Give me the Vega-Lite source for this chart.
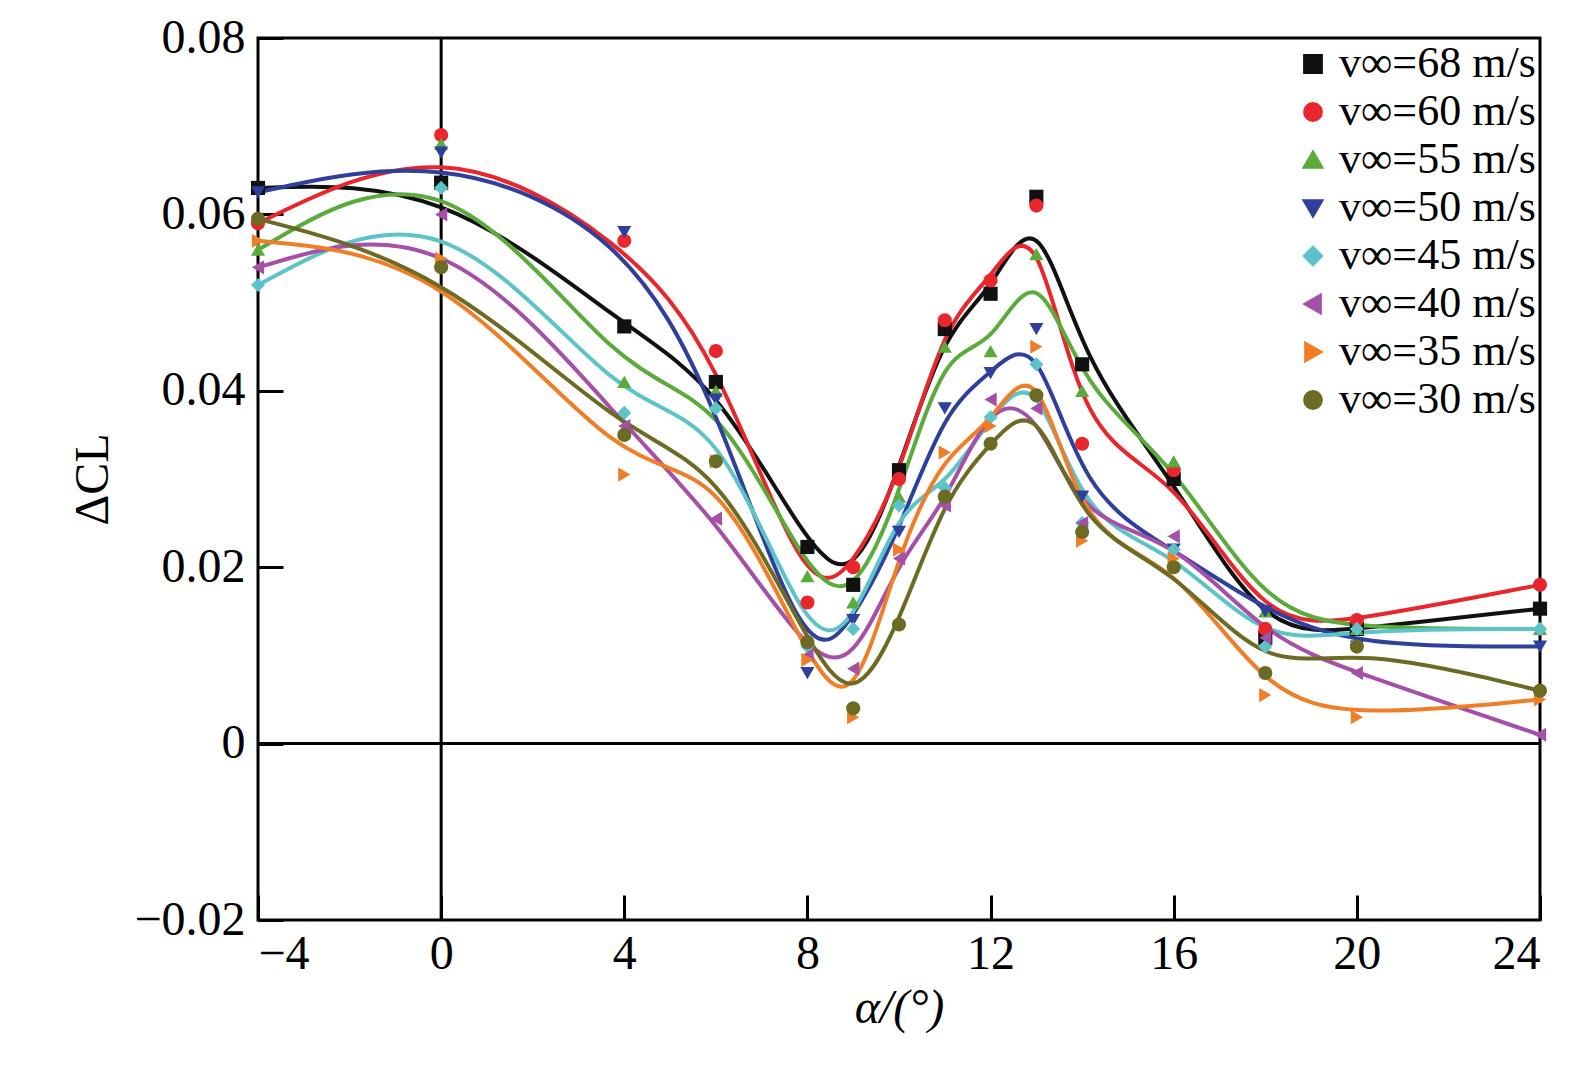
{
  "$schema": "https://vega.github.io/schema/vega-lite/v6.json",
  "autosize": "none",
  "width": 1282,
  "height": 882,
  "padding": {"left": 258, "top": 38, "right": 42, "bottom": 166},
  "background": "white",
  "config": {
    "font": "Liberation Serif",
    "view": {"stroke": "black", "strokeWidth": 3},
    "axis": {"labelFont": "Liberation Serif", "titleFont": "Liberation Serif", "labelFontSize": 48, "titleFontSize": 48, "titleFontWeight": "normal", "labelColor": "black", "titleColor": "black", "domain": false, "grid": false, "tickColor": "black", "tickWidth": 3, "tickSize": -25},
    "legend": {"orient": "top-right", "offset": 4, "title": null, "labelFont": "Liberation Serif", "labelFontSize": 44, "labelColor": "black", "symbolSize": 250, "rowPadding": 4, "labelLimit": 400, "symbolStrokeWidth": 4}
  },
  "datasets": {
    "pts": [
      {"v": "v∞=68 m/s", "a": -4, "cl": 0.063}, {"v": "v∞=68 m/s", "a": 0, "cl": 0.0636}, {"v": "v∞=68 m/s", "a": 4, "cl": 0.0473}, {"v": "v∞=68 m/s", "a": 6, "cl": 0.041}, {"v": "v∞=68 m/s", "a": 8, "cl": 0.0223}, {"v": "v∞=68 m/s", "a": 9, "cl": 0.018}, {"v": "v∞=68 m/s", "a": 10, "cl": 0.031}, {"v": "v∞=68 m/s", "a": 11, "cl": 0.047}, {"v": "v∞=68 m/s", "a": 12, "cl": 0.051}, {"v": "v∞=68 m/s", "a": 13, "cl": 0.062}, {"v": "v∞=68 m/s", "a": 14, "cl": 0.043}, {"v": "v∞=68 m/s", "a": 16, "cl": 0.030}, {"v": "v∞=68 m/s", "a": 18, "cl": 0.012}, {"v": "v∞=68 m/s", "a": 20, "cl": 0.013}, {"v": "v∞=68 m/s", "a": 24, "cl": 0.0153},
      {"v": "v∞=60 m/s", "a": -4, "cl": 0.059}, {"v": "v∞=60 m/s", "a": 0, "cl": 0.069}, {"v": "v∞=60 m/s", "a": 4, "cl": 0.057}, {"v": "v∞=60 m/s", "a": 6, "cl": 0.0445}, {"v": "v∞=60 m/s", "a": 8, "cl": 0.016}, {"v": "v∞=60 m/s", "a": 9, "cl": 0.020}, {"v": "v∞=60 m/s", "a": 10, "cl": 0.030}, {"v": "v∞=60 m/s", "a": 11, "cl": 0.048}, {"v": "v∞=60 m/s", "a": 12, "cl": 0.0525}, {"v": "v∞=60 m/s", "a": 13, "cl": 0.061}, {"v": "v∞=60 m/s", "a": 14, "cl": 0.034}, {"v": "v∞=60 m/s", "a": 16, "cl": 0.031}, {"v": "v∞=60 m/s", "a": 18, "cl": 0.013}, {"v": "v∞=60 m/s", "a": 20, "cl": 0.014}, {"v": "v∞=60 m/s", "a": 24, "cl": 0.018},
      {"v": "v∞=55 m/s", "a": -4, "cl": 0.056}, {"v": "v∞=55 m/s", "a": 0, "cl": 0.068}, {"v": "v∞=55 m/s", "a": 4, "cl": 0.041}, {"v": "v∞=55 m/s", "a": 6, "cl": 0.040}, {"v": "v∞=55 m/s", "a": 8, "cl": 0.019}, {"v": "v∞=55 m/s", "a": 9, "cl": 0.016}, {"v": "v∞=55 m/s", "a": 10, "cl": 0.028}, {"v": "v∞=55 m/s", "a": 11, "cl": 0.045}, {"v": "v∞=55 m/s", "a": 12, "cl": 0.0445}, {"v": "v∞=55 m/s", "a": 13, "cl": 0.0555}, {"v": "v∞=55 m/s", "a": 14, "cl": 0.040}, {"v": "v∞=55 m/s", "a": 16, "cl": 0.032}, {"v": "v∞=55 m/s", "a": 18, "cl": 0.015}, {"v": "v∞=55 m/s", "a": 20, "cl": 0.013}, {"v": "v∞=55 m/s", "a": 24, "cl": 0.013},
      {"v": "v∞=50 m/s", "a": -4, "cl": 0.0625}, {"v": "v∞=50 m/s", "a": 0, "cl": 0.067}, {"v": "v∞=50 m/s", "a": 4, "cl": 0.058}, {"v": "v∞=50 m/s", "a": 6, "cl": 0.039}, {"v": "v∞=50 m/s", "a": 8, "cl": 0.008}, {"v": "v∞=50 m/s", "a": 9, "cl": 0.014}, {"v": "v∞=50 m/s", "a": 10, "cl": 0.024}, {"v": "v∞=50 m/s", "a": 11, "cl": 0.038}, {"v": "v∞=50 m/s", "a": 12, "cl": 0.042}, {"v": "v∞=50 m/s", "a": 13, "cl": 0.047}, {"v": "v∞=50 m/s", "a": 14, "cl": 0.028}, {"v": "v∞=50 m/s", "a": 16, "cl": 0.022}, {"v": "v∞=50 m/s", "a": 18, "cl": 0.015}, {"v": "v∞=50 m/s", "a": 20, "cl": 0.011}, {"v": "v∞=50 m/s", "a": 24, "cl": 0.011},
      {"v": "v∞=45 m/s", "a": -4, "cl": 0.052}, {"v": "v∞=45 m/s", "a": 0, "cl": 0.063}, {"v": "v∞=45 m/s", "a": 4, "cl": 0.0375}, {"v": "v∞=45 m/s", "a": 6, "cl": 0.038}, {"v": "v∞=45 m/s", "a": 8, "cl": 0.011}, {"v": "v∞=45 m/s", "a": 9, "cl": 0.013}, {"v": "v∞=45 m/s", "a": 10, "cl": 0.027}, {"v": "v∞=45 m/s", "a": 11, "cl": 0.029}, {"v": "v∞=45 m/s", "a": 12, "cl": 0.037}, {"v": "v∞=45 m/s", "a": 13, "cl": 0.043}, {"v": "v∞=45 m/s", "a": 14, "cl": 0.025}, {"v": "v∞=45 m/s", "a": 16, "cl": 0.022}, {"v": "v∞=45 m/s", "a": 18, "cl": 0.011}, {"v": "v∞=45 m/s", "a": 20, "cl": 0.013}, {"v": "v∞=45 m/s", "a": 24, "cl": 0.013},
      {"v": "v∞=40 m/s", "a": -4, "cl": 0.054}, {"v": "v∞=40 m/s", "a": 0, "cl": 0.060}, {"v": "v∞=40 m/s", "a": 4, "cl": 0.036}, {"v": "v∞=40 m/s", "a": 6, "cl": 0.0255}, {"v": "v∞=40 m/s", "a": 8, "cl": 0.010}, {"v": "v∞=40 m/s", "a": 9, "cl": 0.0085}, {"v": "v∞=40 m/s", "a": 10, "cl": 0.021}, {"v": "v∞=40 m/s", "a": 11, "cl": 0.027}, {"v": "v∞=40 m/s", "a": 12, "cl": 0.039}, {"v": "v∞=40 m/s", "a": 13, "cl": 0.038}, {"v": "v∞=40 m/s", "a": 14, "cl": 0.025}, {"v": "v∞=40 m/s", "a": 16, "cl": 0.0235}, {"v": "v∞=40 m/s", "a": 18, "cl": 0.012}, {"v": "v∞=40 m/s", "a": 20, "cl": 0.008}, {"v": "v∞=40 m/s", "a": 24, "cl": 0.001},
      {"v": "v∞=35 m/s", "a": -4, "cl": 0.057}, {"v": "v∞=35 m/s", "a": 0, "cl": 0.055}, {"v": "v∞=35 m/s", "a": 4, "cl": 0.0305}, {"v": "v∞=35 m/s", "a": 6, "cl": 0.032}, {"v": "v∞=35 m/s", "a": 8, "cl": 0.0095}, {"v": "v∞=35 m/s", "a": 9, "cl": 0.003}, {"v": "v∞=35 m/s", "a": 10, "cl": 0.022}, {"v": "v∞=35 m/s", "a": 11, "cl": 0.033}, {"v": "v∞=35 m/s", "a": 12, "cl": 0.036}, {"v": "v∞=35 m/s", "a": 13, "cl": 0.045}, {"v": "v∞=35 m/s", "a": 14, "cl": 0.023}, {"v": "v∞=35 m/s", "a": 16, "cl": 0.021}, {"v": "v∞=35 m/s", "a": 18, "cl": 0.0055}, {"v": "v∞=35 m/s", "a": 20, "cl": 0.003}, {"v": "v∞=35 m/s", "a": 24, "cl": 0.005},
      {"v": "v∞=30 m/s", "a": -4, "cl": 0.0595}, {"v": "v∞=30 m/s", "a": 0, "cl": 0.054}, {"v": "v∞=30 m/s", "a": 4, "cl": 0.035}, {"v": "v∞=30 m/s", "a": 6, "cl": 0.032}, {"v": "v∞=30 m/s", "a": 8, "cl": 0.0115}, {"v": "v∞=30 m/s", "a": 9, "cl": 0.004}, {"v": "v∞=30 m/s", "a": 10, "cl": 0.0135}, {"v": "v∞=30 m/s", "a": 11, "cl": 0.028}, {"v": "v∞=30 m/s", "a": 12, "cl": 0.034}, {"v": "v∞=30 m/s", "a": 13, "cl": 0.0395}, {"v": "v∞=30 m/s", "a": 14, "cl": 0.024}, {"v": "v∞=30 m/s", "a": 16, "cl": 0.020}, {"v": "v∞=30 m/s", "a": 18, "cl": 0.008}, {"v": "v∞=30 m/s", "a": 20, "cl": 0.011}, {"v": "v∞=30 m/s", "a": 24, "cl": 0.006}
    ],
    "zero": [{"a": 0, "cl": 0}]
  },
  "encoding": {
    "x": {"field": "a", "type": "quantitative", "title": "α/(°)", "scale": {"domain": [-4, 24], "nice": false, "zero": false}, "axis": {"values": [-4, 0, 4, 8, 12, 16, 20, 24], "labelExpr": "replace(format(datum.value, 'd'), '-', '–')", "labelPadding": 35, "titlePadding": 6, "titleFontStyle": "italic"}},
    "y": {"field": "cl", "type": "quantitative", "title": "ΔCL", "scale": {"domain": [-0.02, 0.08], "nice": false}, "axis": {"values": [-0.02, 0, 0.02, 0.04, 0.06, 0.08], "labelExpr": "datum.value == 0 ? '0' : replace(format(datum.value, '.2f'), '-', '–')", "labelPadding": 38, "titlePadding": 16}}
  },
  "layer": [
    {"data": {"name": "zero"}, "mark": {"type": "rule", "color": "black", "strokeWidth": 3}, "encoding": {"x": {"field": "a", "type": "quantitative"}, "y": null}},
    {"data": {"name": "zero"}, "mark": {"type": "rule", "color": "black", "strokeWidth": 3}, "encoding": {"y": {"field": "cl", "type": "quantitative"}, "x": null}},
    {"data": {"name": "pts"}, "mark": {"type": "line", "interpolate": "basis", "strokeWidth": 4},
     "encoding": {"color": {"field": "v", "type": "nominal", "scale": {"domain": ["v∞=68 m/s", "v∞=60 m/s", "v∞=55 m/s", "v∞=50 m/s", "v∞=45 m/s", "v∞=40 m/s", "v∞=35 m/s", "v∞=30 m/s"], "range": ["#111111", "#e8262b", "#5aab3c", "#2f3f9c", "#5cc4c8", "#a44fa8", "#f07e26", "#6b6b23"]}}}},
    {"data": {"name": "pts"}, "mark": {"type": "point", "filled": true, "size": 200, "opacity": 1},
     "encoding": {
       "color": {"field": "v", "type": "nominal"},
       "shape": {"field": "v", "type": "nominal", "scale": {"domain": ["v∞=68 m/s", "v∞=60 m/s", "v∞=55 m/s", "v∞=50 m/s", "v∞=45 m/s", "v∞=40 m/s", "v∞=35 m/s", "v∞=30 m/s"], "range": ["square", "circle", "triangle-up", "triangle-down", "diamond", "triangle-left", "triangle-right", "circle"]}}
     }}
  ]
}
